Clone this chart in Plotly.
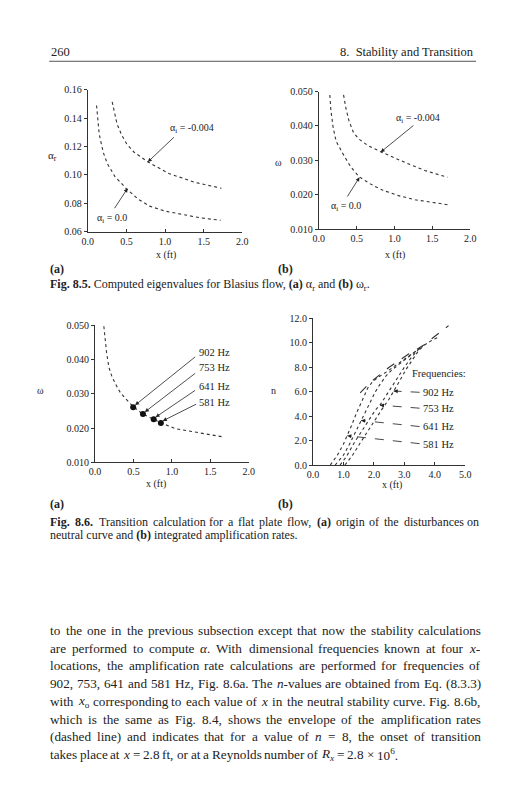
import re
import plotly.graph_objects as go

# page is 527x800; the html body adds an 8 px margin, so the figure is drawn 8 px in
PAGE_W, PAGE_H, OFF = 527, 800, 8
W, H = PAGE_W - OFF, PAGE_H - OFF
SERIF = "Liberation Serif, Times New Roman, serif"
INK = "#222222"

# ---------------- data ----------------
# Fig 8.5a : alpha_r vs x (ft)
a_x_ai0 = [0.114, 0.13, 0.148, 0.2, 0.253, 0.35, 0.505, 0.65, 0.8, 1.0, 1.22, 1.45, 1.72]
a_y_ai0 = [0.149, 0.138, 0.1288, 0.116, 0.108, 0.099, 0.090, 0.083, 0.078, 0.0745, 0.072, 0.0698, 0.068]
a_x_ai4 = [0.316, 0.34, 0.38, 0.44, 0.505, 0.6, 0.78, 1.05, 1.39, 1.73]
a_y_ai4 = [0.1515, 0.145, 0.1357, 0.128, 0.1218, 0.116, 0.1091, 0.101, 0.0947, 0.0906]

# Fig 8.5b : omega vs x (ft)
b_x_ai0 = [0.146, 0.16, 0.19, 0.23, 0.32, 0.42, 0.53, 0.68, 0.84, 1.05, 1.27, 1.5, 1.72]
b_y_ai0 = [0.049, 0.0445, 0.0395, 0.0355, 0.0319, 0.0282, 0.0253, 0.0232, 0.0214, 0.0198, 0.0186, 0.0178, 0.0171]
b_x_ai4 = [0.327, 0.36, 0.40, 0.46, 0.53, 0.65, 0.83, 1.0, 1.14, 1.4, 1.7]
b_y_ai4 = [0.049, 0.045, 0.0414, 0.038, 0.0362, 0.0343, 0.0324, 0.0307, 0.0294, 0.0271, 0.0251]

# Fig 8.6a : neutral curve and disturbance origins
c_x = [0.114, 0.13, 0.15, 0.18, 0.22, 0.27, 0.33, 0.4, 0.5, 0.62, 0.76, 0.86, 1.05, 1.35, 1.65]
c_w = [0.0497, 0.046, 0.042, 0.0377, 0.035, 0.0327, 0.0303, 0.0285, 0.0262, 0.0241, 0.0226, 0.0215, 0.0198, 0.0186, 0.0175]
freq_labels = ["902 Hz", "753 Hz", "641 Hz", "581 Hz"]
freq_x0 = [0.496, 0.623, 0.763, 0.856]
freq_w0 = [0.0261, 0.0241, 0.0226, 0.0215]

# Fig 8.6b : integrated amplification rates n vs x (ft)
n1_x = [0.57, 0.8, 1.0, 1.13, 1.28, 1.42, 1.55, 1.68, 1.8, 1.95, 2.1, 2.4, 2.8, 3.2, 3.6]
n1_y = [0.0, 0.8, 1.7, 2.4, 3.3, 4.2, 4.9, 5.7, 6.3, 6.8, 7.1, 7.6, 8.3, 9.0, 9.7]
n2_x = [0.73, 1.0, 1.2, 1.4, 1.58, 1.75, 1.9, 2.05, 2.2, 2.4, 2.6, 2.9, 3.25, 3.6]
n2_y = [0.0, 0.8, 1.7, 2.7, 3.65, 4.5, 5.3, 6.0, 6.6, 7.3, 7.8, 8.4, 9.1, 9.75]
n3_x = [0.89, 1.1, 1.35, 1.6, 1.85, 2.05, 2.2, 2.4, 2.6, 2.8, 3.0, 3.2, 3.4, 3.6]
n3_y = [0.0, 0.7, 1.8, 2.8, 3.8, 4.5, 4.9, 5.7, 6.5, 7.3, 8.0, 8.7, 9.3, 9.75]
n4_x = [1.05, 1.3, 1.55, 1.8, 2.05, 2.3, 2.5, 2.65, 2.85, 3.05, 3.25, 3.45, 3.65, 3.9, 4.15]
n4_y = [0.0, 0.8, 1.8, 2.8, 3.8, 4.7, 5.4, 6.0, 6.9, 7.8, 8.6, 9.3, 9.8, 10.2, 10.5]
env_x = [1.55, 1.9, 2.5, 3.15, 3.6, 4.0, 4.45]
env_n = [5.9, 6.8, 8.0, 9.1, 9.75, 10.5, 11.4]
# arrow tips on the curves (902, 753, 641, 581 Hz) and label heights
tip_x = [2.65, 2.2, 1.58, 1.13]
tip_n = [6.05, 4.9, 3.65, 2.4]
lab_n = [5.95, 4.65, 3.15, 1.75]

# ticks
ticks_ar = [0.06, 0.08, 0.10, 0.12, 0.14, 0.16]
ticks_w = [0.010, 0.020, 0.030, 0.040, 0.050]
ticks_x2 = [0.0, 0.5, 1.0, 1.5, 2.0]
ticks_n = [0.0, 2.0, 4.0, 6.0, 8.0, 10.0, 12.0]
ticks_x5 = [0.0, 1.0, 2.0, 3.0, 4.0, 5.0]

# ---------------- helpers ----------------
def X(p):
    return (p - OFF) / W

def Y(p):
    return 1 - (p - OFF) / H

def dx(p0, p1):
    return [X(p0), X(p1)]

def dy(top, bottom):
    return [Y(bottom), Y(top)]

tickfont = dict(family=SERIF, size=10, color=INK)

def xax(dom, rng, anchor, tv, fmt):
    return dict(domain=dom, range=rng, anchor=anchor, showline=True, linecolor="#333",
                linewidth=1, showgrid=False, zeroline=False, ticks="inside", ticklen=3,
                tickcolor="#333", tickvals=tv, tickformat=fmt, tickfont=tickfont)

def yax(dom, rng, anchor, tv, fmt):
    return dict(domain=dom, range=rng, anchor=anchor, showline=True, linecolor="#333",
                linewidth=1, showgrid=False, zeroline=False, ticks="outside", ticklen=3,
                tickcolor="#333", tickvals=tv, tickformat=fmt, tickfont=tickfont)

fig = go.Figure()
curve = dict(color="#333", width=1.1, dash="dot")

def line(x, y, xa, ya, style=curve):
    fig.add_trace(go.Scatter(x=x, y=y, mode="lines", line=style, xaxis=xa, yaxis=ya,
                             showlegend=False, hoverinfo="skip"))

line(a_x_ai0, a_y_ai0, "x", "y")
line(a_x_ai4, a_y_ai4, "x", "y")
line(b_x_ai0, b_y_ai0, "x2", "y2")
line(b_x_ai4, b_y_ai4, "x2", "y2")
line(c_x, c_w, "x3", "y3")
fig.add_trace(go.Scatter(x=freq_x0, y=freq_w0, mode="markers", xaxis="x3", yaxis="y3",
                         marker=dict(color="#111", size=6), showlegend=False, hoverinfo="skip"))
for xs, ys in [(n1_x, n1_y), (n2_x, n2_y), (n3_x, n3_y), (n4_x, n4_y)]:
    line(xs, ys, "x4", "y4")
line(env_x, env_n, "x4", "y4", dict(color="#333", width=1.1, dash="dash"))
for tx, tn, ln in zip(tip_x, tip_n, lab_n):
    line([3.5, tx], [ln, tn], "x4", "y4", dict(color="#333", width=0.9, dash="dash"))

ann = []

def T(px, py, text, size=10, xanchor="left", yanchor="middle"):
    ann.append(dict(x=X(px), y=Y(py), xref="paper", yref="paper", text=text, showarrow=False,
                    xanchor=xanchor, yanchor=yanchor, borderpad=0,
                    font=dict(family=SERIF, size=size, color=INK)))

def A(x, y, ax, ay, xr, yr):
    ann.append(dict(x=x, y=y, ax=ax, ay=ay, xref=xr, yref=yr, axref=xr, ayref=yr, text="",
                    showarrow=True, arrowhead=2, arrowsize=1, arrowwidth=0.8, arrowcolor=INK))

# ---- approximate Times metrics for justified text ----
WID = {' ': 250, 'a': 444, 'b': 500, 'c': 444, 'd': 500, 'e': 444, 'f': 333, 'g': 500, 'h': 500,
       'i': 278, 'j': 278, 'k': 500, 'l': 278, 'm': 778, 'n': 500, 'o': 500, 'p': 500, 'q': 500,
       'r': 333, 's': 389, 't': 278, 'u': 500, 'v': 500, 'w': 722, 'x': 500, 'y': 500, 'z': 444,
       'A': 722, 'B': 667, 'C': 667, 'D': 722, 'E': 611, 'F': 556, 'G': 722, 'H': 722, 'I': 333,
       'J': 389, 'K': 722, 'L': 611, 'M': 889, 'N': 722, 'O': 722, 'P': 556, 'Q': 722, 'R': 667,
       'S': 556, 'T': 611, 'U': 722, 'V': 722, 'W': 944, 'X': 722, 'Y': 722, 'Z': 611,
       '.': 250, ',': 250, '-': 333, '(': 333, ')': 333, ':': 278, '=': 564, '×': 564,
       'α': 520, 'ω': 690}

def word_width(word, size):
    total, scale, bold = 0.0, 1.0, 1.0
    for tok in re.split(r"(<[^>]+>)", word):
        if tok.startswith("<"):
            t = tok.lower()
            if t in ("<sub>", "<sup>"):
                scale = 0.7
            elif t in ("</sub>", "</sup>"):
                scale = 1.0
            elif t == "<b>":
                bold = 1.07
            elif t == "</b>":
                bold = 1.0
            continue
        for ch in tok:
            total += WID.get(ch, 500) * scale * bold
    return total / 1000.0 * size

def text_line(words, x0, x1, y, size, justify=True):
    ws = [word_width(w, size) for w in words]
    if justify and len(words) > 1:
        gap = (x1 - x0 - sum(ws)) / (len(words) - 1)
    else:
        gap = 0.25 * size
    x = x0
    for w, wd in zip(words, ws):
        T(x, y, w, size)
        x += wd + gap

# arrows Fig 8.5
A(0.777, 0.1091, 1.135, 0.1276, "x", "y")
A(0.516, 0.0906, 0.335, 0.0755, "x", "y")
A(0.817, 0.0324, 1.27, 0.0405, "x2", "y2")
A(0.538, 0.0251, 0.365, 0.0191, "x2", "y2")
# arrows Fig 8.6a
tails_x = [1.322, 1.322, 1.322, 1.335]
tails_w = [0.0411, 0.0363, 0.0313, 0.0272]
for fx, fw, tx, tw in zip(freq_x0, freq_w0, tails_x, tails_w):
    A(fx + 0.025, fw + 0.0006, tx, tw, "x3", "y3")
# arrow heads Fig 8.6b
for tx, tn, ln in zip(tip_x, tip_n, lab_n):
    A(tx, tn, tx + 0.18, tn + 0.18 * (ln - tn) / (3.5 - tx), "x4", "y4")

# in-plot labels
T(166.7, 124.3, "α<sub>i</sub> = -0.004")
T(91.7, 215.7, "α<sub>i</sub> = 0.0")
T(398, 114.3, "α<sub>i</sub> = -0.004")
T(331.7, 203.3, "α<sub>i</sub> = 0.0")
for lab, yy in zip(freq_labels, [351.7, 366.7, 386, 402.7]):
    T(196.7, yy, lab, 10.5)
T(414, 373.3, "Frequencies:", 10.5)
for lab, yy in zip(freq_labels, [392.7, 408.3, 427.3, 445]):
    T(425.7, yy, lab, 10.5)

# axis titles
T(47, 151.7, "α<sub>r</sub>", 11, "center")
T(278.3, 158.3, "ω", 10, "center")
T(35, 390, "ω", 10, "center")
T(273.3, 390, "n", 10, "center")
for xx, yy in [(163.3, 252.3), (398.3, 252.3), (153.3, 485), (395, 486.7)]:
    T(xx, yy, "x (ft)", 10, "center")

# page text
T(45, 47, "260", 12.5)
T(480, 47, "8.  Stability and Transition", 12.5, "right")
T(44, 267, "<b>(a)</b>", 12)
T(277, 267, "<b>(b)</b>", 12)
T(44, 283, "<b>Fig. 8.5.</b> Computed eigenvalues for Blasius flow, <b>(a)</b> α<sub>r</sub> and <b>(b)</b> ω<sub>r</sub>.", 12)
T(44, 506, "<b>(a)</b>", 12)
T(277, 506, "<b>(b)</b>", 12)
cap1 = ["<b>Fig.</b>", "<b>8.6.</b>", "Transition", "calculation", "for", "a", "flat", "plate", "flow,",
        "<b>(a)</b>", "origin", "of", "the", "disturbances", "on"]
text_line(cap1, 44, 483, 524, 12)
T(44, 537, "neutral curve and <b>(b)</b> integrated amplification rates.", 12)

body = [
    "to the one in the previous subsection except that now the stability calculations",
    "are performed to compute <i>α</i>. With dimensional frequencies known at four <i>x</i>-",
    "locations, the amplification rate calculations are performed for frequencies of",
    "902, 753, 641 and 581 Hz, Fig. 8.6a. The <i>n</i>-values are obtained from Eq. (8.3.3)",
    "with <i>x</i><sub>o</sub> corresponding to each value of <i>x</i> in the neutral stability curve. Fig. 8.6b,",
    "which is the same as Fig. 8.4, shows the envelope of the amplification rates",
    "(dashed line) and indicates that for a value of <i>n</i> = 8, the onset of transition",
    "takes place at <i>x</i> = 2.8 ft, or at a Reynolds number of <i>R<sub>x</sub></i> = 2.8 × 10<sup>6</sup>.",
]
for i, s in enumerate(body):
    text_line(s.split(" "), 44, 484, 634 + 18 * i, 13.2, justify=(i < len(body) - 1))

fig.update_layout(
    width=W, height=H, margin=dict(l=0, r=0, t=0, b=0),
    paper_bgcolor="white", plot_bgcolor="rgba(0,0,0,0)", showlegend=False,
    xaxis=xax(dx(83.5, 241.7), [0, 2], "y", ticks_x2, ".1f"),
    yaxis=yax(dy(85, 229), [0.06, 0.16], "x", ticks_ar, ".2f"),
    xaxis2=xax(dx(320, 475), [0, 2], "y2", ticks_x2, ".1f"),
    yaxis2=yax(dy(86.7, 226.7), [0.01, 0.05], "x2", ticks_w, ".3f"),
    xaxis3=xax(dx(91, 248.3), [0, 2], "y3", ticks_x2, ".1f"),
    yaxis3=yax(dy(324, 463.3), [0.01, 0.05], "x3", ticks_w, ".3f"),
    xaxis4=xax(dx(314, 470), [0, 5], "y4", ticks_x5, ".1f"),
    yaxis4=yax(dy(317, 466), [0, 12], "x4", ticks_n, ".1f"),
    annotations=ann,
    shapes=[dict(type="line", xref="paper", yref="paper", x0=X(44), x1=X(481), y0=Y(56), y1=Y(56),
                 line=dict(color="#555", width=1))],
)

fig.write_html("out.html")
